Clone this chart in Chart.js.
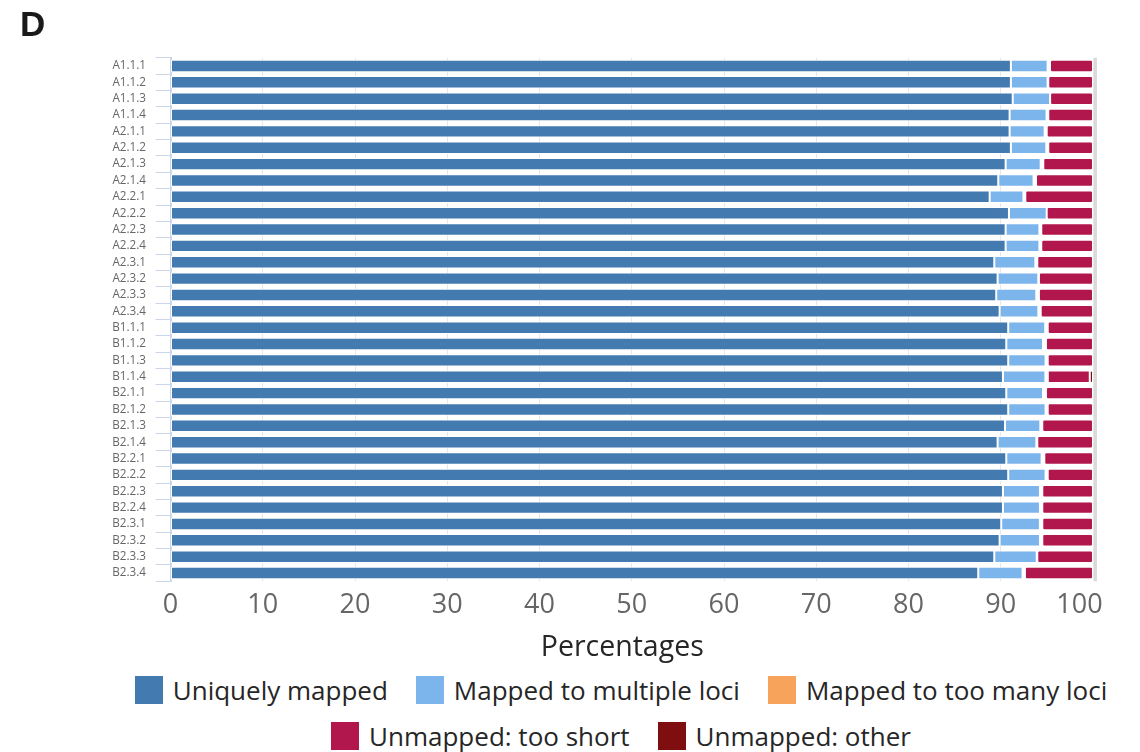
<!DOCTYPE html>
<html>
<head>
<meta charset="utf-8">
<script src="https://cdn.jsdelivr.net/npm/chart.js@4/dist/chart.umd.min.js"></script>
<style>
  html, body { margin: 0; padding: 0; background: #fff; }
  #wrap { position: relative; width: 1140px; height: 752px; overflow: hidden; }
  #chart { position: absolute; left: 0; top: 0; }
  #legend {
    position: absolute; left: 121px; top: 675px; width: 1000px;
    display: flex; flex-wrap: wrap; justify-content: center;
    column-gap: 28px; row-gap: 16px;
    font-family: "Open Sans", sans-serif; font-size: 26px; color: #262626;
  }
  .item { display: flex; align-items: center; height: 30px; line-height: 30px; white-space: nowrap; }
  .swatch { width: 28px; height: 28px; margin-right: 10px; }
</style>
</head>
<body>
<div id="wrap">
  <canvas id="chart" width="1140" height="666"></canvas>
  <div id="legend"></div>
</div>
<script>
// Sample names (one bar each)
const samples = [
  'A1.1.1', 'A1.1.2', 'A1.1.3', 'A1.1.4',
  'A2.1.1', 'A2.1.2', 'A2.1.3', 'A2.1.4',
  'A2.2.1', 'A2.2.2', 'A2.2.3', 'A2.2.4',
  'A2.3.1', 'A2.3.2', 'A2.3.3', 'A2.3.4',
  'B1.1.1', 'B1.1.2', 'B1.1.3', 'B1.1.4',
  'B2.1.1', 'B2.1.2', 'B2.1.3', 'B2.1.4',
  'B2.2.1', 'B2.2.2', 'B2.2.3', 'B2.2.4',
  'B2.3.1', 'B2.3.2', 'B2.3.3', 'B2.3.4'
];

// Percentage of reads per category
const uniquelyMapped = [
  91.10, 91.10, 91.30, 90.96, 90.96, 91.10, 90.53, 89.73,
  88.80, 90.89, 90.53, 90.53, 89.30, 89.66, 89.51, 89.88,
  90.81, 90.60, 90.81, 90.24, 90.60, 90.81, 90.46, 89.66,
  90.60, 90.81, 90.24, 90.24, 90.05, 89.88, 89.30, 87.56
];
const multipleLoci = [
  3.98, 3.98, 4.05, 4.01, 3.80, 3.84, 3.80, 3.83,
  3.66, 4.09, 3.66, 3.66, 4.45, 4.41, 4.34, 4.20,
  4.01, 3.98, 4.05, 4.60, 3.98, 4.05, 3.83, 4.20,
  3.83, 4.05, 4.01, 4.01, 4.19, 4.37, 4.60, 4.80
];
const tooManyLoci = [
  0.26, 0.07, 0.00, 0.18, 0.22, 0.21, 0.28, 0.26,
  0.20, 0.00, 0.20, 0.20, 0.21, 0.07, 0.29, 0.25,
  0.27, 0.32, 0.23, 0.26, 0.32, 0.23, 0.21, 0.10,
  0.29, 0.23, 0.25, 0.25, 0.26, 0.25, 0.06, 0.26
];
const unmappedShort = [
  4.66, 4.85, 4.65, 4.85, 5.02, 4.85, 5.39, 6.18,
  7.34, 5.02, 5.61, 5.61, 6.04, 5.86, 5.86, 5.67,
  4.91, 5.10, 4.91, 4.55, 5.10, 4.91, 5.50, 6.04,
  5.28, 4.91, 5.50, 5.50, 5.50, 5.50, 6.04, 7.38
];
const unmappedOther = [
  0, 0, 0, 0, 0, 0, 0, 0,
  0, 0, 0, 0, 0, 0, 0, 0,
  0, 0, 0, 0.35, 0, 0, 0, 0,
  0, 0, 0, 0, 0, 0, 0, 0
];

const xTicks = [0, 10, 20, 30, 40, 50, 60, 70, 80, 90, 100];

const seriesNames = [
  'Uniquely mapped', 'Mapped to multiple loci', 'Mapped to too many loci',
  'Unmapped: too short', 'Unmapped: other'
];
const seriesColors = ['#437bb1', '#7cb5ec', '#f7a35c', '#b1174c', '#7f0f0f'];
const seriesValues = [uniquelyMapped, multipleLoci, tooManyLoci, unmappedShort, unmappedOther];
// White outline per series; the thin "too many loci" slivers vanish inside theirs
const seriesBorders = [1, 1, 2, 1, 1];

Chart.defaults.font.family = '"Open Sans", sans-serif';
Chart.defaults.color = '#666';

// Light frame line along the right edge of the plot
const rightFrame = {
  id: 'rightFrame',
  afterDatasetsDraw(chart) {
    const { ctx, chartArea } = chart;
    ctx.save();
    ctx.strokeStyle = '#dadada';
    ctx.lineWidth = 3;
    ctx.beginPath();
    ctx.moveTo(chartArea.right + 2.5, chartArea.top);
    ctx.lineTo(chartArea.right + 2.5, chartArea.bottom);
    ctx.stroke();
    ctx.restore();
  }
};

const chart = new Chart(document.getElementById('chart'), {
  type: 'bar',
  data: {
    labels: samples,
    datasets: seriesNames.map((name, i) => ({
      label: name,
      data: seriesValues[i],
      backgroundColor: seriesColors[i],
      borderColor: '#ffffff',
      borderWidth: seriesBorders[i],
      borderSkipped: false,
      borderRadius: 2,
      inflateAmount: 0,
      categoryPercentage: 1,
      barPercentage: 0.76
    }))
  },
  options: {
    indexAxis: 'y',
    responsive: false,
    animation: false,
    layout: { padding: { left: 20, right: 47, top: 0, bottom: 0 } },
    plugins: {
      legend: { display: false },
      tooltip: { enabled: false },
      title: {
        display: true,
        text: 'D',
        align: 'start',
        color: '#1a1a1a',
        font: { size: 35, weight: 'bold', family: '"Liberation Sans", Arial, sans-serif', lineHeight: 1.2 },
        padding: { top: 5, bottom: 10.8 }
      }
    },
    scales: {
      x: {
        stacked: true,
        min: 0,
        max: 100,
        afterBuildTicks: (scale) => { scale.ticks = xTicks.map(v => ({ value: v })); },
        afterFit: (scale) => { scale.height = 84.8; },
        grid: { color: '#e6e6e6', lineWidth: 1, drawTicks: false },
        border: { display: false },
        ticks: {
          padding: 8,
          color: '#666',
          font: { size: 27 },
          // the last label is pulled in so it stays inside the frame
          callback: (v) => (v === 100 ? '100\u2003' : String(v))
        },
        title: {
          display: true,
          // trailing spaces nudge the centred title a little to the left
          text: 'Percentages\u2002\u2009',
          color: '#262626',
          font: { size: 28.5 },
          padding: { top: 0, bottom: 1 }
        }
      },
      y: {
        stacked: true,
        afterFit: (scale) => { scale.width = 150.5; },
        grid: {
          drawOnChartArea: false,
          color: '#ccd6eb',
          lineWidth: 1,
          tickLength: 15,
          offset: true
        },
        border: { display: true, color: '#ccd6eb', width: 2 },
        ticks: { autoSkip: false, padding: 9.5, color: '#666', font: { size: 11.7 } }
      }
    }
  },
  plugins: [rightFrame]
});

// Legend built from the chart's datasets
const legendEl = document.getElementById('legend');
chart.data.datasets.forEach(ds => {
  const item = document.createElement('div');
  item.className = 'item';
  const sw = document.createElement('span');
  sw.className = 'swatch';
  sw.style.background = ds.backgroundColor;
  const txt = document.createElement('span');
  txt.textContent = ds.label;
  item.appendChild(sw);
  item.appendChild(txt);
  legendEl.appendChild(item);
});
</script>
</body>
</html>
